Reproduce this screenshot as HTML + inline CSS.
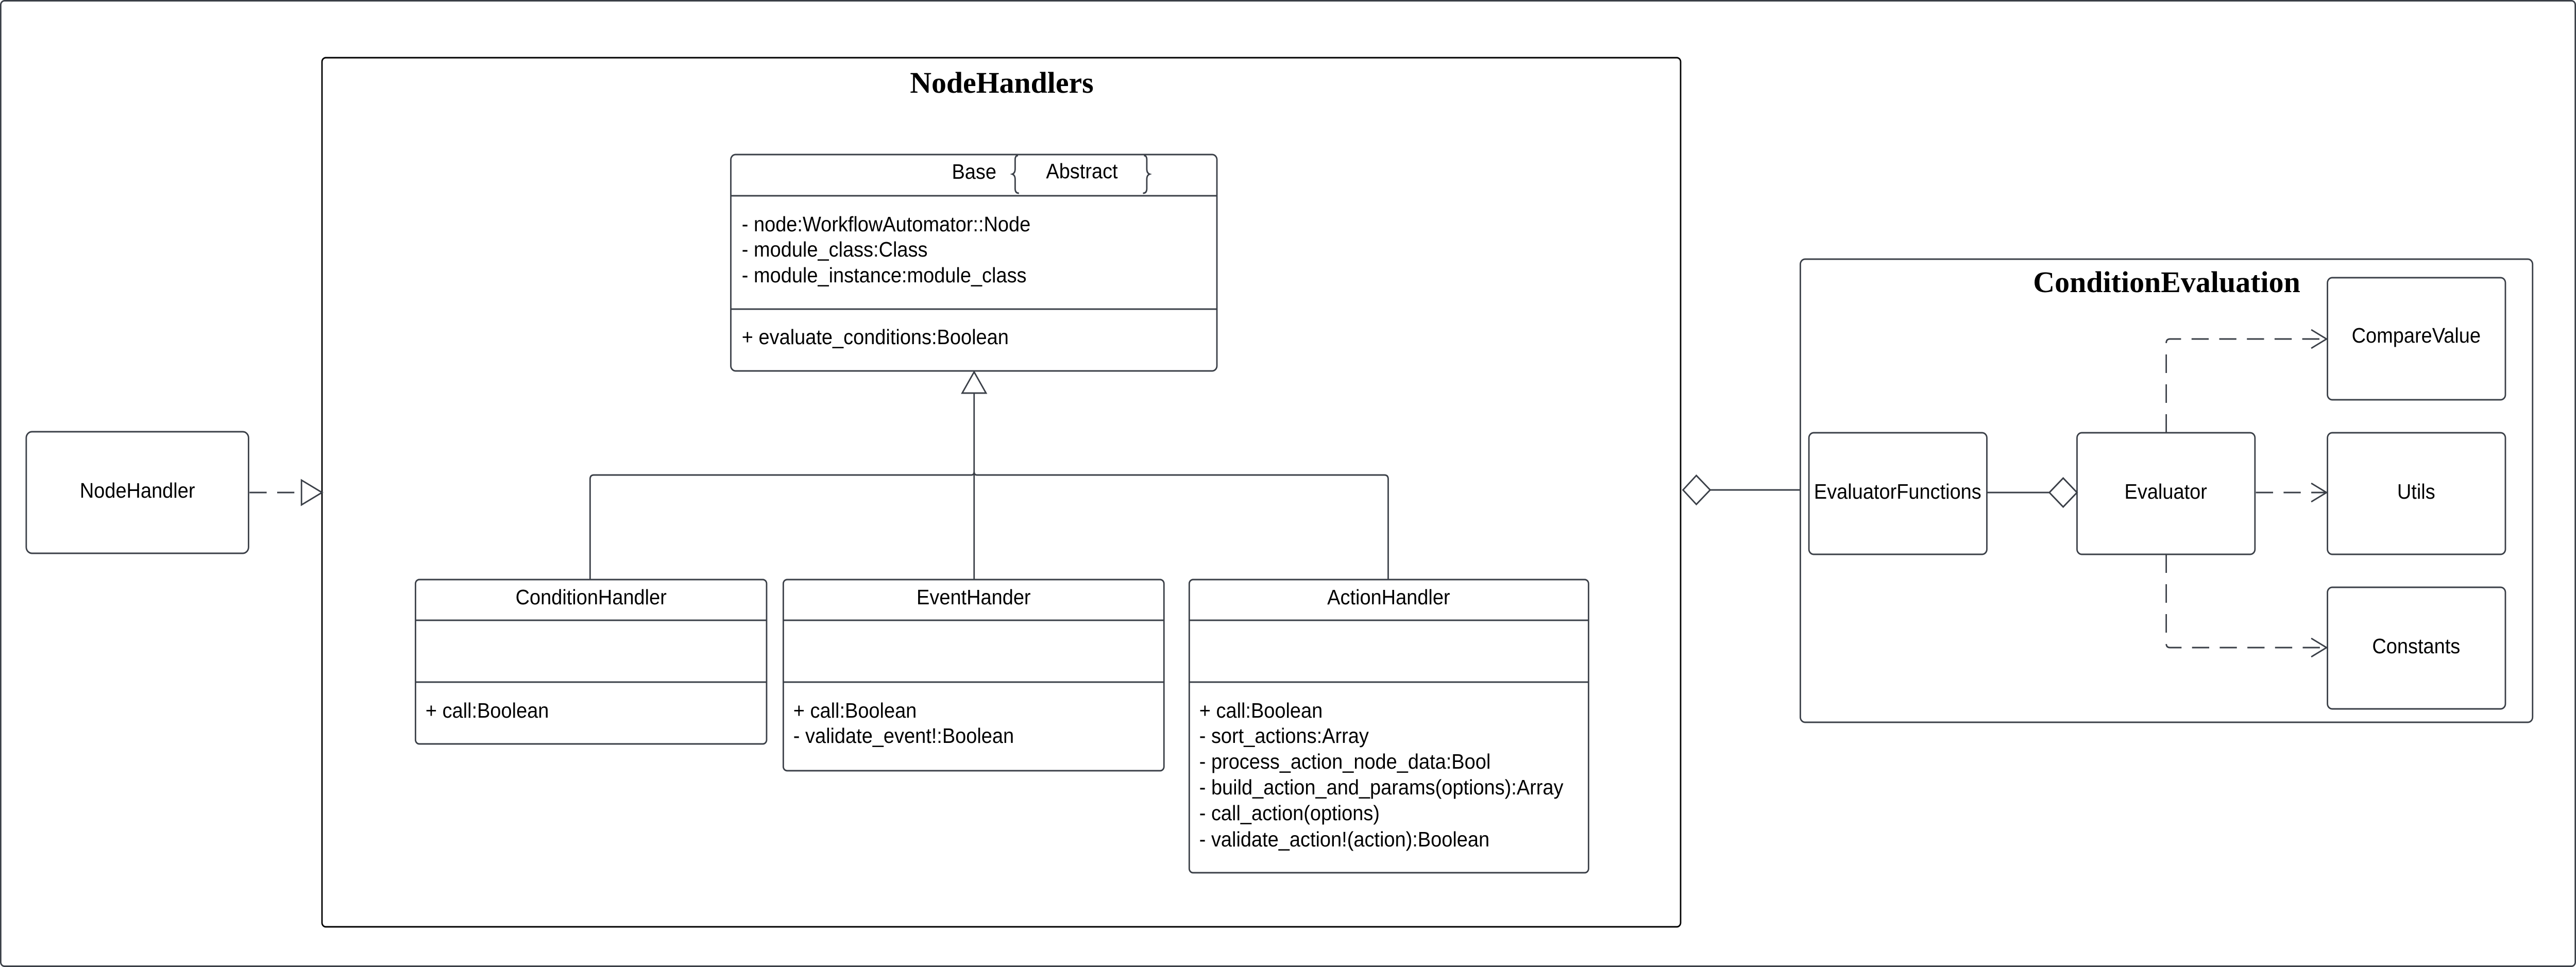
<!DOCTYPE html>
<html><head><meta charset="utf-8"><style>
html,body{margin:0;padding:0;background:#fff;overflow:hidden;width:100%;height:100%;}
svg{display:block;width:100vw;height:100vh;}
text{font-family:"Liberation Sans",sans-serif;font-size:41px;fill:#000;}
.t{font-family:"Liberation Serif",serif;font-weight:bold;font-size:58px;}
.b{fill:#fff;stroke:#3a3f47;stroke-width:3;}
.l{fill:none;stroke:#3a3f47;stroke-width:3;}
.d{fill:none;stroke:#3a3f47;stroke-width:3;stroke-dasharray:36,22;}
</style></head><body>
<svg viewBox="0 0 5400 1877" preserveAspectRatio="none" xmlns="http://www.w3.org/2000/svg">
<rect x="1.5" y="1.5" width="5397" height="1874" rx="8" fill="#fff" stroke="#3a3f47" stroke-width="3"/>
<rect x="675" y="112" width="2848" height="1687" rx="8" fill="#fff" stroke="#000" stroke-width="3"/>
<text class="t" x="2100" y="180" text-anchor="middle" textLength="385" lengthAdjust="spacingAndGlyphs">NodeHandlers</text>
<rect class="b" x="55" y="838" width="466" height="236" rx="12"/>
<text x="288" y="966" text-anchor="middle">NodeHandler</text>
<line class="d" x1="523" y1="956" x2="632" y2="956"/>
<polygon class="b" points="632,932 675,956 632,980"/>
<rect class="b" x="1532" y="300" width="1019" height="420" rx="10"/>
<line class="l" x1="1532" y1="380" x2="2551" y2="380"/>
<line class="l" x1="1532" y1="600" x2="2551" y2="600"/>
<text x="2042" y="347" text-anchor="middle">Base</text>
<text x="2268" y="346" text-anchor="middle">Abstract</text>
<path class="l" d="M2134,302 Q2128,302 2128,310 L2128,328 Q2128,336 2122,338 Q2128,340 2128,348 L2128,366 Q2128,375 2136,375"/>
<path class="l" d="M2398,302 Q2404,302 2404,310 L2404,328 Q2404,336 2410,338 Q2404,340 2404,348 L2404,366 Q2404,375 2396,375"/>
<text x="1555" y="449">- node:WorkflowAutomator::Node</text>
<text x="1555" y="498">- module_class:Class</text>
<text x="1555" y="548">- module_instance:module_class</text>
<text x="1555" y="668">+ evaluate_conditions:Boolean</text>
<polygon class="b" points="2042,722 2017,763 2067,763"/>
<line class="l" x1="2042" y1="763" x2="2042" y2="1125"/>
<path class="l" d="M1237,1125 L1237,930 Q1237,922 1245,922 L2036,922 Q2042,922 2042,916 Q2042,922 2048,922 L2902,922 Q2910,922 2910,930 L2910,1125"/>
<rect class="b" x="871" y="1125" width="736" height="319" rx="8"/>
<line class="l" x1="871" y1="1204" x2="1607" y2="1204"/>
<line class="l" x1="871" y1="1324" x2="1607" y2="1324"/>
<text x="1239" y="1173" text-anchor="middle">ConditionHandler</text>
<text x="892" y="1393">+ call:Boolean</text>
<rect class="b" x="1642" y="1125" width="798" height="371" rx="8"/>
<line class="l" x1="1642" y1="1204" x2="2440" y2="1204"/>
<line class="l" x1="1642" y1="1324" x2="2440" y2="1324"/>
<text x="2041" y="1173" text-anchor="middle">EventHander</text>
<text x="1663" y="1393">+ call:Boolean</text>
<text x="1663" y="1442">- validate_event!:Boolean</text>
<rect class="b" x="2493" y="1125" width="837" height="569" rx="8"/>
<line class="l" x1="2493" y1="1204" x2="3330" y2="1204"/>
<line class="l" x1="2493" y1="1324" x2="3330" y2="1324"/>
<text x="2911" y="1173" text-anchor="middle">ActionHandler</text>
<text x="2514" y="1393">+ call:Boolean</text>
<text x="2514" y="1442">- sort_actions:Array</text>
<text x="2514" y="1492">- process_action_node_data:Bool</text>
<text x="2514" y="1542">- build_action_and_params(options):Array</text>
<text x="2514" y="1592">- call_action(options)</text>
<text x="2514" y="1643">- validate_action!(action):Boolean</text>
<polygon class="b" points="3528,951 3556,923 3585,951 3556,979"/>
<line class="l" x1="3585" y1="951" x2="3774" y2="951"/>
<rect x="3774" y="503" width="1535" height="899" rx="10" fill="#fff" stroke="#3a3f47" stroke-width="3"/>
<text class="t" x="4542" y="567" text-anchor="middle" textLength="560" lengthAdjust="spacingAndGlyphs">ConditionEvaluation</text>
<rect class="b" x="4879" y="539" width="373" height="237" rx="10"/>
<text x="5065" y="665" text-anchor="middle">CompareValue</text>
<rect class="b" x="4879" y="840" width="373" height="236" rx="10"/>
<text x="5065" y="968" text-anchor="middle">Utils</text>
<rect class="b" x="4879" y="1140" width="373" height="236" rx="10"/>
<text x="5065" y="1268" text-anchor="middle">Constants</text>
<rect class="b" x="3792" y="840" width="373" height="236" rx="10"/>
<text x="3978" y="968" text-anchor="middle">EvaluatorFunctions</text>
<rect class="b" x="4354" y="840" width="373" height="236" rx="10"/>
<text x="4540" y="968" text-anchor="middle">Evaluator</text>
<line class="l" x1="4165" y1="956" x2="4296" y2="956"/>
<polygon class="b" points="4296,956 4325,928 4354,956 4325,984"/>
<path class="d" d="M4541,840 L4541,666 Q4541,658 4549,658 L4877,658"/>
<polyline class="l" points="4845,640 4877,658 4845,676"/>
<line class="d" x1="4729" y1="956" x2="4877" y2="956"/>
<polyline class="l" points="4845,938 4877,956 4845,974"/>
<path class="d" d="M4541,1076 L4541,1249 Q4541,1257 4549,1257 L4877,1257"/>
<polyline class="l" points="4845,1239 4877,1257 4845,1275"/>
</svg>
</body></html>
